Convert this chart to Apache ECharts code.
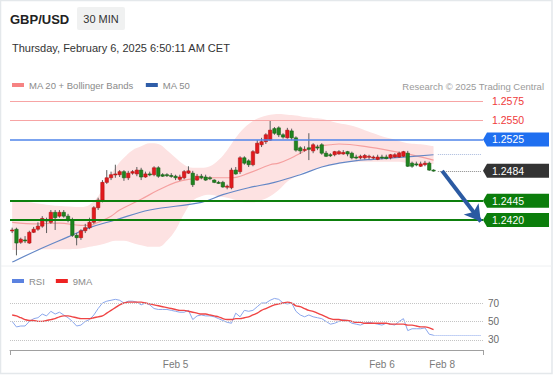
<!DOCTYPE html>
<html><head><meta charset="utf-8">
<script src="https://cdn.jsdelivr.net/npm/echarts@6/dist/echarts.min.js"></script>
<style>html,body{margin:0;padding:0;background:#fff}#c{width:553px;height:375px}</style>
</head><body><div id="c"></div>
<script>
// ---------- DATA ----------
const slotCount = 110;                       // 30-min slots on the time axis (incl. empty future slots)
const xTickLabels = [[38, 'Feb 5'], [86, 'Feb 6'], [100, 'Feb 8']];
// candles: [open, close, low, high]
const candles = [
 [1.2406,1.2407,1.2403,1.2410],[1.2408,1.2390,1.2374,1.2410],[1.2391,1.2395,1.2389,1.2397],[1.2394,1.2393,1.2390,1.2399],
 [1.2390,1.2404,1.2389,1.2406],[1.2404,1.2408,1.2403,1.2411],[1.2408,1.2412,1.2406,1.2417],[1.2412,1.2422,1.2410,1.2425],
 [1.2420,1.2419,1.2403,1.2423],[1.2417,1.2430,1.2415,1.2433],[1.2430,1.2423,1.2407,1.2433],[1.2425,1.2430,1.2423,1.2433],
 [1.2430,1.2425,1.2423,1.2433],[1.2425,1.2420,1.2417,1.2428],[1.2420,1.2400,1.2398,1.2423],[1.2400,1.2397,1.2387,1.2403],
 [1.2397,1.2406,1.2394,1.2408],[1.2406,1.2410,1.2403,1.2415],[1.2410,1.2417,1.2408,1.2423],[1.2417,1.2436,1.2415,1.2438],
 [1.2436,1.2446,1.2433,1.2449],[1.2446,1.2469,1.2443,1.2472],[1.2469,1.2475,1.2467,1.2485],[1.2475,1.2479,1.2472,1.2483],
 [1.2479,1.2480,1.2475,1.2492],[1.2479,1.2483,1.2476,1.2485],[1.2483,1.2475,1.2471,1.2485],[1.2475,1.2481,1.2472,1.2484],
 [1.2481,1.2483,1.2479,1.2485],[1.2480,1.2485,1.2477,1.2489],[1.2485,1.2476,1.2472,1.2488],[1.2476,1.2480,1.2475,1.2483],
 [1.2480,1.2479,1.2477,1.2483],[1.2479,1.2488,1.2477,1.2490],[1.2488,1.2477,1.2475,1.2490],[1.2479,1.2477,1.2476,1.2481],
 [1.2479,1.2478,1.2476,1.2481],[1.2478,1.2477,1.2475,1.2481],[1.2477,1.2475,1.2472,1.2479],[1.2473,1.2476,1.2471,1.2479],
 [1.2475,1.2483,1.2473,1.2485],[1.2481,1.2484,1.2480,1.2490],[1.2481,1.2466,1.2463,1.2484],[1.2472,1.2477,1.2471,1.2480],
 [1.2477,1.2475,1.2473,1.2480],[1.2476,1.2472,1.2471,1.2479],[1.2475,1.2474,1.2472,1.2477],[1.2472,1.2469,1.2468,1.2473],
 [1.2469,1.2468,1.2467,1.2471],[1.2469,1.2463,1.2462,1.2471],[1.2463,1.2464,1.2460,1.2466],[1.2462,1.2485,1.2460,1.2488],
 [1.2485,1.2480,1.2479,1.2489],[1.2483,1.2501,1.2480,1.2503],[1.2501,1.2494,1.2492,1.2503],[1.2497,1.2492,1.2489,1.2499],
 [1.2492,1.2509,1.2490,1.2511],[1.2507,1.2520,1.2506,1.2524],[1.2518,1.2522,1.2515,1.2527],[1.2522,1.2531,1.2519,1.2533],
 [1.2524,1.2537,1.2523,1.2549],[1.2539,1.2533,1.2531,1.2541],[1.2540,1.2531,1.2528,1.2542],[1.2531,1.2528,1.2526,1.2533],
 [1.2527,1.2537,1.2526,1.2540],[1.2536,1.2527,1.2524,1.2539],[1.2527,1.2511,1.2509,1.2529],[1.2514,1.2510,1.2506,1.2516],
 [1.2511,1.2512,1.2509,1.2516],[1.2514,1.2512,1.2498,1.2533],[1.2510,1.2518,1.2507,1.2520],[1.2515,1.2514,1.2511,1.2518],
 [1.2518,1.2507,1.2505,1.2520],[1.2507,1.2503,1.2502,1.2510],[1.2505,1.2504,1.2502,1.2507],[1.2505,1.2509,1.2503,1.2510],
 [1.2506,1.2509,1.2505,1.2511],[1.2506,1.2508,1.2505,1.2511],[1.2509,1.2506,1.2503,1.2510],[1.2507,1.2501,1.2499,1.2509],
 [1.2502,1.2501,1.2499,1.2505],[1.2501,1.2503,1.2499,1.2505],[1.2501,1.2504,1.2499,1.2506],[1.2502,1.2503,1.2499,1.2505],
 [1.2501,1.2502,1.2499,1.2504],[1.2499,1.2502,1.2498,1.2505],[1.2502,1.2501,1.2499,1.2505],[1.2502,1.2500,1.2499,1.2505],
 [1.2501,1.2505,1.2499,1.2506],[1.2502,1.2505,1.2501,1.2507],[1.2502,1.2507,1.2501,1.2509],[1.2503,1.2509,1.2502,1.2510],
 [1.2507,1.2490,1.2489,1.2510],[1.2494,1.2490,1.2488,1.2496],[1.2493,1.2492,1.2490,1.2496],[1.2490,1.2493,1.2489,1.2496],
 [1.2492,1.2494,1.2490,1.2497],[1.2494,1.2485,1.2484,1.2496],[1.2485,1.2484,1.2483,1.2486]
];
// [slot index, price]
const ma20 = [[0,1.2417],[6,1.2415],[11,1.2416],[16,1.2413],[18,1.2413],[20,1.2417],[23,1.2425],[25,1.2433],[30,1.2447],
 [34,1.2459],[38,1.2469],[41,1.2473],[46,1.2475],[51,1.2475],[55,1.2481],[60,1.2492],[62,1.2494],[65,1.2501],[67,1.2507],
 [70,1.2515],[74,1.2518],[76,1.2519],[83,1.2515],[91,1.2507],[98,1.2498]];
const ma50 = [[0,1.2365],[6,1.2381],[13,1.2398],[18,1.2410],[24,1.2420],[32,1.2433],[44,1.2443],[49,1.2453],[55,1.2462],
 [61,1.2469],[67,1.2479],[72,1.2489],[76,1.2494],[81,1.2498],[84,1.2499],[91,1.2502],[98,1.2505]];
const bbUpper = [[0,1.2446],[4,1.2443],[8,1.2440],[12,1.2438],[16,1.2437],[18,1.2440],[20,1.2451],[22,1.2470],[24,1.2488],
 [26,1.2501],[28,1.2511],[30,1.2516],[32,1.2520],[34,1.2519],[36,1.2511],[38,1.2501],[40,1.2492],[42,1.2488],[44,1.2488],
 [46,1.2490],[48,1.2498],[50,1.2511],[52,1.2527],[54,1.2540],[56,1.2549],[58,1.2554],[60,1.2557],[62,1.2558],[64,1.2557],
 [66,1.2556],[68,1.2554],[70,1.2553],[72,1.2552],[74,1.2549],[76,1.2546],[78,1.2544],[80,1.2541],[82,1.2537],[84,1.2533],
 [86,1.2529],[88,1.2526],[90,1.2523],[92,1.2520],[94,1.2519],[96,1.2518],[98,1.2516]];
const bbLower = [[0,1.2381],[4,1.2381],[8,1.2382],[12,1.2382],[16,1.2383],[18,1.2385],[20,1.2387],[22,1.2390],[24,1.2393],
 [26,1.2393],[28,1.2390],[30,1.2387],[32,1.2385],[34,1.2385],[36,1.2393],[38,1.2407],[40,1.2428],[42,1.2445],[44,1.2451],
 [46,1.2453],[48,1.2451],[50,1.2449],[52,1.2446],[54,1.2443],[56,1.2443],[58,1.2446],[60,1.2451],[62,1.2459],[64,1.2470],
 [66,1.2477],[68,1.2483],[70,1.2485],[72,1.2489],[74,1.2492],[76,1.2494],[78,1.2496],[80,1.2496],[82,1.2496],[84,1.2496],
 [86,1.2496],[88,1.2496],[90,1.2496],[92,1.2494],[94,1.2493],[96,1.2493],[98,1.2493]];
const rsi = [50,44,45,45,50,53,54,58,56,61,58,60,57,54,50,45,46,50,52,57,64,70,72,73,74,73,70,72,72,71,68,70,68,64,63,63,63,62,61,60,
 60,62,52,56,57,56,56,55,53,51,49,48,59,55,62,61,62,66,70,70,73,75,74,70,69,70,61,57,55,57,55,54,53,50,47,48,50,52,51,48,
 47,46,48,49,48,47,46,48,47,46,50,53,40,42,42,42,43,36,35];
const rsiMA9 = [57,56,54,52,51,51,50,50,51,52,53,55,56,56,55,54,53,53,53,54,55,56,59,62,65,68,70,71,71,71,71,70,69,68,67,66,65,64,63,62,
 62,61,60,59,58,58,57,56,55,53,52,52,53,53,54,55,57,59,62,64,66,68,69,70,71,70,67,66,64,62,61,59,57,55,53,52,52,51,51,50,
 49,49,48,48,48,48,48,48,47,47,47,47,46,46,45,44,44,43,41];
const rsiLevels = [70, 50, 30];
const resistanceLevels = [1.2575, 1.2550];
const pivotLevel = 1.2525;
const supportLevels = [1.2445, 1.2420];
const lastPrice = 1.2484;
const arrowTarget = [109, 1.2418];

// ---------- CHART ----------
const FONT = '"Liberation Sans", Arial, sans-serif';
const cats = Array.from({length: slotCount}, (_, i) => String(i));
const tickMap = new Map(xTickLabels);
const candleData = candles.map((c, i) => [i, c[0], c[1], c[2], c[3]]);
const bbWidth = bbUpper.map((p, k) => [p[0], +(p[1] - bbLower[k][1]).toFixed(5)]);
const lastIdx = candles.length - 1;
const ma50Last = ma50[ma50.length - 1][1];
const rsiLast = rsi[rsi.length - 1];

const chart = echarts.init(document.getElementById('c'), null, {renderer: 'svg'});

const mainLines = [
  ...resistanceLevels.map(v => ({yAxis: v, lineStyle: {color: '#f7a4a4', width: 1, type: 'solid'}})),
  {yAxis: pivotLevel, lineStyle: {color: '#4f84ea', width: 1.5, type: 'solid'}},
  ...supportLevels.map(v => ({yAxis: v, lineStyle: {color: '#0d7f0d', width: 2, type: 'solid'}})),
  [{coord: [lastIdx + 1, ma50Last]}, {coord: [slotCount - 1, ma50Last], lineStyle: {color: '#a9badd', width: 1, type: 'dotted'}}],
  [{coord: [lastIdx + 1, lastPrice]}, {coord: [slotCount - 1, lastPrice], lineStyle: {color: '#8a8a8a', width: 1, type: 'dotted'}}]
];

chart.setOption({
  animation: false,
  textStyle: {fontFamily: FONT},
  grid: [
    {left: 10, right: 70, top: 92, bottom: 113},
    {left: 10, right: 70, top: 285, bottom: 25}
  ],
  legend: [
    {left: 12, top: 80, padding: 0, itemWidth: 12, itemHeight: 4, itemGap: 12, selectedMode: false, icon: 'rect',
     textStyle: {color: '#8a8a8a', fontSize: 9.5, fontFamily: FONT},
     data: [{name: 'MA 20 + Bollinger Bands', itemStyle: {color: '#f68383'}}, {name: 'MA 50', itemStyle: {color: '#2f5da8'}}]},
    {left: 12, top: 276, padding: 0, itemWidth: 12, itemHeight: 4, itemGap: 11, selectedMode: false, icon: 'rect',
     textStyle: {color: '#8a8a8a', fontSize: 9.5, fontFamily: FONT},
     data: [{name: 'RSI', itemStyle: {color: '#5b82e0'}}, {name: '9MA', itemStyle: {color: '#ee2222'}}]}
  ],
  xAxis: [
    {type: 'category', gridIndex: 0, data: cats, boundaryGap: true, show: false},
    {type: 'category', gridIndex: 1, data: cats, boundaryGap: true,
     axisLine: {show: true, lineStyle: {color: '#a0a0a0', width: 1}},
     axisTick: {show: true, interval: (i) => i === 0, length: 5, lineStyle: {color: '#a0a0a0'}},
     axisLabel: {interval: (i) => tickMap.has(i), formatter: (v, i) => tickMap.get(i) || '', color: '#7a7a7a', fontSize: 10, margin: 9},
     splitLine: {show: false}}
  ],
  yAxis: [
    {type: 'value', gridIndex: 0, min: 1.23653, max: 1.25867, show: false},
    {type: 'value', gridIndex: 1, min: 18.9, max: 89.6, show: false}
  ],
  series: [
    {name: 'bbLower', type: 'line', xAxisIndex: 0, yAxisIndex: 0, data: bbLower, stack: 'bb', smooth: 0.4,
     showSymbol: false, silent: true, lineStyle: {opacity: 0}, z: 1},
    {name: 'bbBand', type: 'line', xAxisIndex: 0, yAxisIndex: 0, data: bbWidth, stack: 'bb', smooth: 0.4,
     showSymbol: false, silent: true, lineStyle: {opacity: 0}, areaStyle: {color: '#fde2e2', opacity: 1}, z: 1},
    {name: 'MA 20 + Bollinger Bands', type: 'line', xAxisIndex: 0, yAxisIndex: 0, data: ma20, smooth: 0.4,
     showSymbol: false, silent: true, color: '#f68383', lineStyle: {color: '#f5a0a0', width: 1.2}, z: 2,
     markLine: {silent: true, precision: 4, symbol: ['none', 'arrow'], symbolSize: [14, 16], label: {show: false},
       data: [[{coord: [lastIdx + 2, lastPrice]}, {coord: arrowTarget}]],
       lineStyle: {color: '#2b5aa2', width: 4, type: 'solid'}, z: 6}},
    {name: 'MA 50', type: 'line', xAxisIndex: 0, yAxisIndex: 0, data: ma50, smooth: 0.4,
     showSymbol: false, silent: true, color: '#2f5da8', lineStyle: {color: '#6487c6', width: 1.2}, z: 2,
     markLine: {silent: true, precision: 4, symbol: ['none', 'none'], label: {show: false}, data: mainLines}},
    {name: 'GBP/USD', type: 'custom', xAxisIndex: 0, yAxisIndex: 0, data: candleData, z: 3, clip: true,
     encode: {x: 0, y: [1, 2, 3, 4]},
     renderItem: function (params, api) {
       const x = api.value(0), o = api.value(1), c = api.value(2), l = api.value(3), h = api.value(4);
       const pO = api.coord([x, o]), pC = api.coord([x, c]), pL = api.coord([x, l]), pH = api.coord([x, h]);
       const w = api.size([1, 0])[0] * 0.78;
       const up = c >= o;
       const top = Math.min(pO[1], pC[1]);
       const hh = Math.max(Math.abs(pO[1] - pC[1]), 1);
       return {type: 'group', children: [
         {type: 'line', shape: {x1: pL[0], y1: pL[1], x2: pH[0], y2: pH[1]}, style: {stroke: '#5c5c5c', lineWidth: 1}},
         {type: 'rect', shape: {x: pO[0] - w / 2, y: top, width: w, height: hh},
          style: {fill: up ? '#e3191d' : '#1f851f', stroke: up ? '#b01515' : '#176317', lineWidth: 0.6}}
       ]};
     }},
    {name: 'RSI', type: 'line', xAxisIndex: 1, yAxisIndex: 1, data: rsi, showSymbol: false, silent: true,
     color: '#5b82e0', lineStyle: {color: '#8ba7ec', width: 1}, z: 2,
     markLine: {silent: true, precision: 2, symbol: ['none', 'none'],
       data: [
         ...rsiLevels.map(v => ({yAxis: v, label: {show: true, position: 'end', formatter: String(v), color: '#6a6a6a', fontSize: 10, distance: 5},
           lineStyle: {color: '#c4c4c4', width: 1, type: 'dotted'}})),
         [{coord: [lastIdx, rsiLast]}, {coord: [slotCount - 1, rsiLast], label: {show: false}, lineStyle: {color: '#8ba7ec', width: 1, type: 'dotted'}}]
       ]}},
    {name: '9MA', type: 'line', xAxisIndex: 1, yAxisIndex: 1, data: rsiMA9, smooth: 0.4, showSymbol: false, silent: true,
     color: '#ee2222', lineStyle: {color: '#ef4545', width: 1.4}, z: 3}
  ]
});

// ---------- header + price tags ----------
const W = chart.getWidth();
const tagLeft = W - 70;
function tag(value, bg, fg) {
  const y = chart.convertToPixel({yAxisIndex: 0}, value);
  const items = [];
  if (bg) {
    items.push({type: 'polygon', silent: true, shape: {points: [[tagLeft, y], [tagLeft + 4, y - 7], [W - 4, y - 7], [W - 4, y + 7], [tagLeft + 4, y + 7]]},
      style: {fill: bg}, z: 10});
  }
  items.push({type: 'text', silent: true, x: tagLeft + 9, y: y, style: {text: value.toFixed(4), fill: fg, font: '10.5px ' + FONT, verticalAlign: 'middle'}, z: 11});
  return items;
}
const graphics = [
  {type: 'rect', silent: true, shape: {x: 0.5, y: 0.5, width: W - 1.5, height: 373}, style: {fill: 'none', stroke: '#e4e8eb', lineWidth: 1.5}, z: 0},
  {type: 'line', silent: true, shape: {x1: 1, y1: 266, x2: W - 1, y2: 266}, style: {stroke: '#eef0f2', lineWidth: 1}, z: 0},
  {type: 'text', silent: true, x: 10, y: 19, style: {text: 'GBP/USD', fill: '#222', font: 'bold 13px ' + FONT, verticalAlign: 'middle'}},
  {type: 'rect', silent: true, shape: {x: 77, y: 7, width: 48, height: 23, r: 2}, style: {fill: '#f0f1f1'}},
  {type: 'text', silent: true, x: 101, y: 19, style: {text: '30 MIN', fill: '#333', font: '11px ' + FONT, align: 'center', verticalAlign: 'middle'}},
  {type: 'text', silent: true, x: 12, y: 48, style: {text: 'Thursday, February 6, 2025 6:50:11 AM CET', fill: '#333', font: '11px ' + FONT, verticalAlign: 'middle'}},
  {type: 'text', silent: true, x: 544, y: 86, style: {text: 'Research \u00A9 2025 Trading Central', fill: '#9a9a9a', font: '9.5px ' + FONT, align: 'right', verticalAlign: 'middle'}},
  ...resistanceLevels.flatMap(v => tag(v, null, '#ef3b3b')),
  ...tag(pivotLevel, '#1f6ff0', '#fff'),
  ...tag(lastPrice, '#333333', '#fff'),
  ...supportLevels.flatMap(v => tag(v, '#0b7d0b', '#fff'))
];
chart.setOption({graphic: graphics});
</script>
</body></html>
